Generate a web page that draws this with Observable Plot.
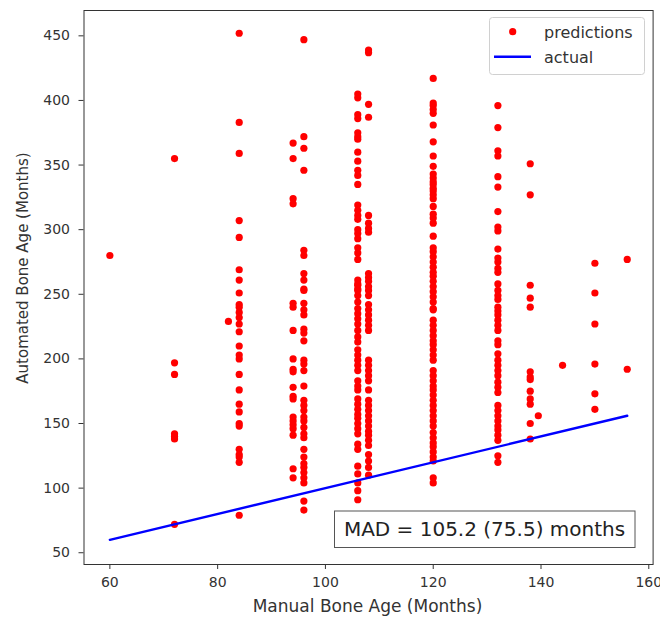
<!DOCTYPE html>
<html>
<head>
<meta charset="utf-8">
<script src="https://cdn.jsdelivr.net/npm/d3@7"></script>
<script src="https://cdn.jsdelivr.net/npm/@observablehq/plot@0.6"></script>
<style>
  html, body { margin: 0; padding: 0; background: white; }
  #chart svg { display: block; }
</style>
</head>
<body>
<div id="chart"></div>
<script>
// Manual bone age (x) columns and automated predictions (y)
const pred60  = [280];
const pred72  = [355, 197, 188, 142, 140, 138, 72];
const pred82  = [229];
const pred84  = [452, 383, 359, 307, 294, 269, 261, 251, 242, 240, 236, 232, 227, 221, 210, 203, 200, 188, 176, 165, 159, 150, 148, 130, 126, 124, 120, 79];
const pred94  = [367, 355, 324, 320, 243, 240, 222, 200, 192, 190, 178, 171, 169, 155, 152, 149, 146, 141, 115, 108];
const pred96  = [447, 372, 363, 346, 284, 280, 266, 261, 254, 253, 243, 238, 234, 223, 220, 214, 199, 196, 191, 179, 168, 164, 160, 155, 152, 147, 142, 139, 130, 124, 119, 116, 112, 108, 104, 90, 83];
const pred106 = [405, 402, 389, 386, 375, 372, 370, 360, 353, 346, 342, 335, 319, 315, 311, 308, 300, 297, 293, 286, 282, 277, 261, 258, 257, 254, 253, 249, 244, 239, 235, 231, 227, 222, 217, 213, 207, 203, 199, 195, 191, 183, 179, 176, 169, 165, 161, 157, 154, 150, 146, 142, 134, 130, 117, 111, 104, 98, 91];
const pred108 = [439, 437, 397, 387, 311, 305, 301, 298, 266, 263, 260, 256, 253, 249, 242, 238, 234, 230, 226, 222, 199, 195, 191, 187, 183, 176, 168, 164, 160, 156, 152, 148, 144, 141, 137, 133, 126, 121, 116, 110];
const pred120 = [417, 398, 396, 393, 390, 381, 368, 357, 349, 343, 340, 337, 335, 332, 330, 327, 324, 318, 312, 309, 305, 295, 286, 283, 279, 275, 271, 267, 264, 260, 256, 252, 248, 244, 239, 238, 230, 226, 222, 218, 214, 211, 207, 203, 199, 191, 187, 183, 179, 176, 172, 168, 164, 160, 156, 152, 148, 143, 139, 135, 132, 128, 124, 121, 108, 104];
const pred132 = [396, 379, 361, 357, 341, 333, 314, 302, 299, 285, 278, 275, 270, 267, 258, 253, 249, 246, 240, 237, 234, 230, 226, 222, 214, 211, 204, 199, 195, 191, 187, 182, 178, 174, 164, 160, 156, 152, 148, 145, 141, 137, 125, 120];
const pred138 = [351, 327, 257, 247, 240, 190, 186, 184, 175, 169, 165, 150, 138];
const pred139 = [156];
const pred144 = [195];
const pred150 = [274, 251, 227, 196, 173, 161];
const pred156 = [277, 192];

const manualAges = [60, 72, 82, 84, 94, 96, 106, 108, 120, 132, 138, 139.5, 144, 150, 156];
const predColumns = [pred60, pred72, pred82, pred84, pred94, pred96, pred106, pred108, pred120, pred132, pred138, pred139, pred144, pred150, pred156];

// "actual" line: y = x over manual age range
const actualX = [60, 156];
const actualY = [60, 156];

const xTicks = [60, 80, 100, 120, 140, 160];
const yTicks = [50, 100, 150, 200, 250, 300, 350, 400, 450];

const xLabel = "Manual Bone Age (Months)";
const yLabel = "Automated Bone Age (Months)";
const legendLabels = ["predictions", "actual"];
const madText = "MAD = 105.2 (75.5) months";

const points = [];
manualAges.forEach((m, i) => predColumns[i].forEach(p => points.push({manual: m, predicted: p})));
const actual = actualX.map((x, i) => ({x, y: actualY[i]}));

const W = 660, H = 618;
const chart = Plot.plot({
  width: W,
  height: H,
  marginLeft: 83.5,
  marginRight: 7.4,
  marginTop: 10,
  marginBottom: 54,
  x: {domain: [55.2, 160.8]},
  y: {domain: [40.9, 469.6]},
  style: {fontFamily: "DejaVu Sans", fontSize: "14px", color: "#333", background: "white"},
  marks: [
    Plot.dot(points, {x: "manual", y: "predicted", r: 3.6, fill: "#ff0000", stroke: "none"}),
    Plot.line(actual, {x: "x", y: "y", stroke: "#0000ff", strokeWidth: 2.4}),
    Plot.frame({stroke: "#333", strokeWidth: 1}),
    Plot.axisX(xTicks, {tickSize: 5, tickPadding: 8, label: null, fontSize: 14}),
    Plot.axisY(yTicks, {tickSize: 5, tickPadding: 9, label: null, fontSize: 14})
  ]
});
document.getElementById("chart").appendChild(chart);

const svg = d3.select(chart);
const font = "DejaVu Sans";

// Axis titles
svg.append("text")
  .attr("x", 367.5).attr("y", 612)
  .attr("text-anchor", "middle")
  .attr("font-family", font).attr("font-size", 17)
  .attr("fill", "#333")
  .text(xLabel);
svg.append("text")
  .attr("transform", "translate(28,268) rotate(-90)")
  .attr("text-anchor", "middle")
  .attr("font-family", font).attr("font-size", 15)
  .attr("fill", "#333")
  .text(yLabel);

// Legend
const lg = svg.append("g").attr("text-anchor", "start");
lg.append("rect")
  .attr("x", 489.5).attr("y", 17.5).attr("width", 155).attr("height", 57)
  .attr("rx", 3).attr("fill", "white").attr("fill-opacity", 0.85)
  .attr("stroke", "#d0d0d0");
lg.append("circle").attr("cx", 512.7).attr("cy", 31.7).attr("r", 3.6).attr("fill", "#ff0000");
lg.append("line").attr("x1", 494).attr("x2", 531).attr("y1", 56.7).attr("y2", 56.7)
  .attr("stroke", "#0000ff").attr("stroke-width", 2.4);
lg.append("text").attr("x", 544).attr("y", 37.5).attr("text-anchor", "start")
  .attr("font-family", font).attr("font-size", 16).attr("fill", "#333").text(legendLabels[0]);
lg.append("text").attr("x", 544).attr("y", 63).attr("text-anchor", "start")
  .attr("font-family", font).attr("font-size", 16).attr("fill", "#333").text(legendLabels[1]);

// MAD annotation box
const mg = svg.append("g");
mg.append("rect")
  .attr("x", 334.5).attr("y", 511).attr("width", 300.5).attr("height", 36.5)
  .attr("fill", "white").attr("stroke", "#555");
mg.append("text")
  .attr("x", 484.5).attr("y", 536)
  .attr("text-anchor", "middle")
  .attr("font-family", font).attr("font-size", 20).attr("fill", "#222")
  .text(madText);
</script>
</body>
</html>
